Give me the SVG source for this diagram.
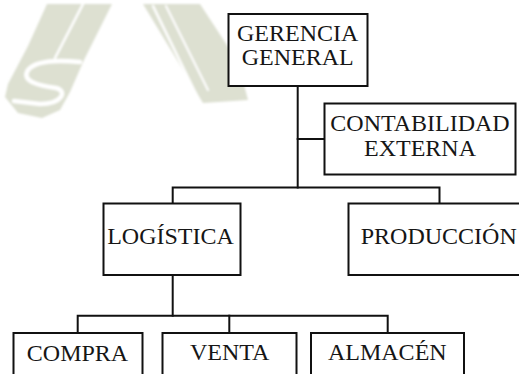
<svg xmlns="http://www.w3.org/2000/svg" width="519" height="374" viewBox="0 0 519 374">
  <defs>
    <filter id="soft" x="-10%" y="-10%" width="120%" height="120%">
      <feGaussianBlur stdDeviation="0.8"/>
    </filter>
  </defs>
  <style>
    .box { fill: #ffffff; stroke: #111111; stroke-width: 2; }
    .wire { fill: none; stroke: #111111; stroke-width: 2; stroke-linecap: square; }
    .lbl { font-size: 24px; fill: #161616; text-anchor: middle; }
    .mark { fill: #dde0d1; }
    .cut { fill: none; stroke: #ffffff; stroke-linecap: round; }
  </style>

  <rect width="519" height="374" fill="#ffffff"/>

  <!-- faded emblem in the upper-left background -->
  <g id="emblem" filter="url(#soft)">
    <polygon class="mark" points="47,4 112,4 84,60 70,92 60,110 42,118 18,113 5,97 8,84 28,46"/>
    <line class="cut" x1="83" y1="4" x2="55" y2="58" stroke-width="2.5"/>
    <path class="cut" stroke-width="4.5" d="M80,62 C60,60 36,60 28,70 C20,82 42,86 56,88 C68,91 62,104 40,104 L14,101"/>
    <polygon class="mark" points="143,4 200,4 238,62 248,100 203,103"/>
    <line class="cut" x1="153" y1="6" x2="197" y2="96" stroke-width="2.5"/>
    <line class="cut" x1="166" y1="6" x2="208" y2="90" stroke-width="2"/>
  </g>

  <!-- connectors -->
  <g id="connectors">
    <polyline class="wire" points="297.7,86 297.7,187.5"/>
    <polyline class="wire" points="297.7,139 324.5,139"/>
    <polyline class="wire" points="172.7,203.5 172.7,187.5 439.5,187.5 439.5,203.5"/>
    <polyline class="wire" points="172.7,275 172.7,315.7"/>
    <polyline class="wire" points="77.7,333 77.7,315.7 387.7,315.7 387.7,333"/>
    <polyline class="wire" points="229.3,315.7 229.3,333"/>
  </g>

  <g id="labels-font" font-family="'Liberation Serif', Tinos, 'Times New Roman', Times, serif">
    <g id="gerencia">
      <rect class="box" x="228.5" y="14" width="139" height="72"/>
      <text class="lbl" x="297.7" y="41">GERENCIA</text>
      <text class="lbl" x="297.7" y="64.5">GENERAL</text>
    </g>

    <g id="contabilidad">
      <rect class="box" x="324.5" y="103.5" width="191" height="71"/>
      <text class="lbl" x="420" y="131">CONTABILIDAD</text>
      <text class="lbl" x="420" y="156">EXTERNA</text>
    </g>

    <g id="logistica">
      <rect class="box" x="103.5" y="203.5" width="137" height="71.5"/>
      <text class="lbl" x="170.5" y="244">LOGÍSTICA</text>
    </g>

    <g id="produccion">
      <rect class="box" x="348.5" y="203.5" width="180" height="71.5"/>
      <text class="lbl" x="360.7" y="243.5" text-anchor="start" style="text-anchor:start">PRODUCCIÓN</text>
    </g>

    <g id="compra">
      <rect class="box" x="13.5" y="333" width="129" height="60"/>
      <text class="lbl" x="77.5" y="361">COMPRA</text>
    </g>

    <g id="venta">
      <rect class="box" x="162.5" y="333" width="134" height="60"/>
      <text class="lbl" x="229.6" y="360">VENTA</text>
    </g>

    <g id="almacen">
      <rect class="box" x="311" y="333" width="153" height="60"/>
      <text class="lbl" x="387.3" y="360">ALMACÉN</text>
    </g>
  </g>
</svg>
